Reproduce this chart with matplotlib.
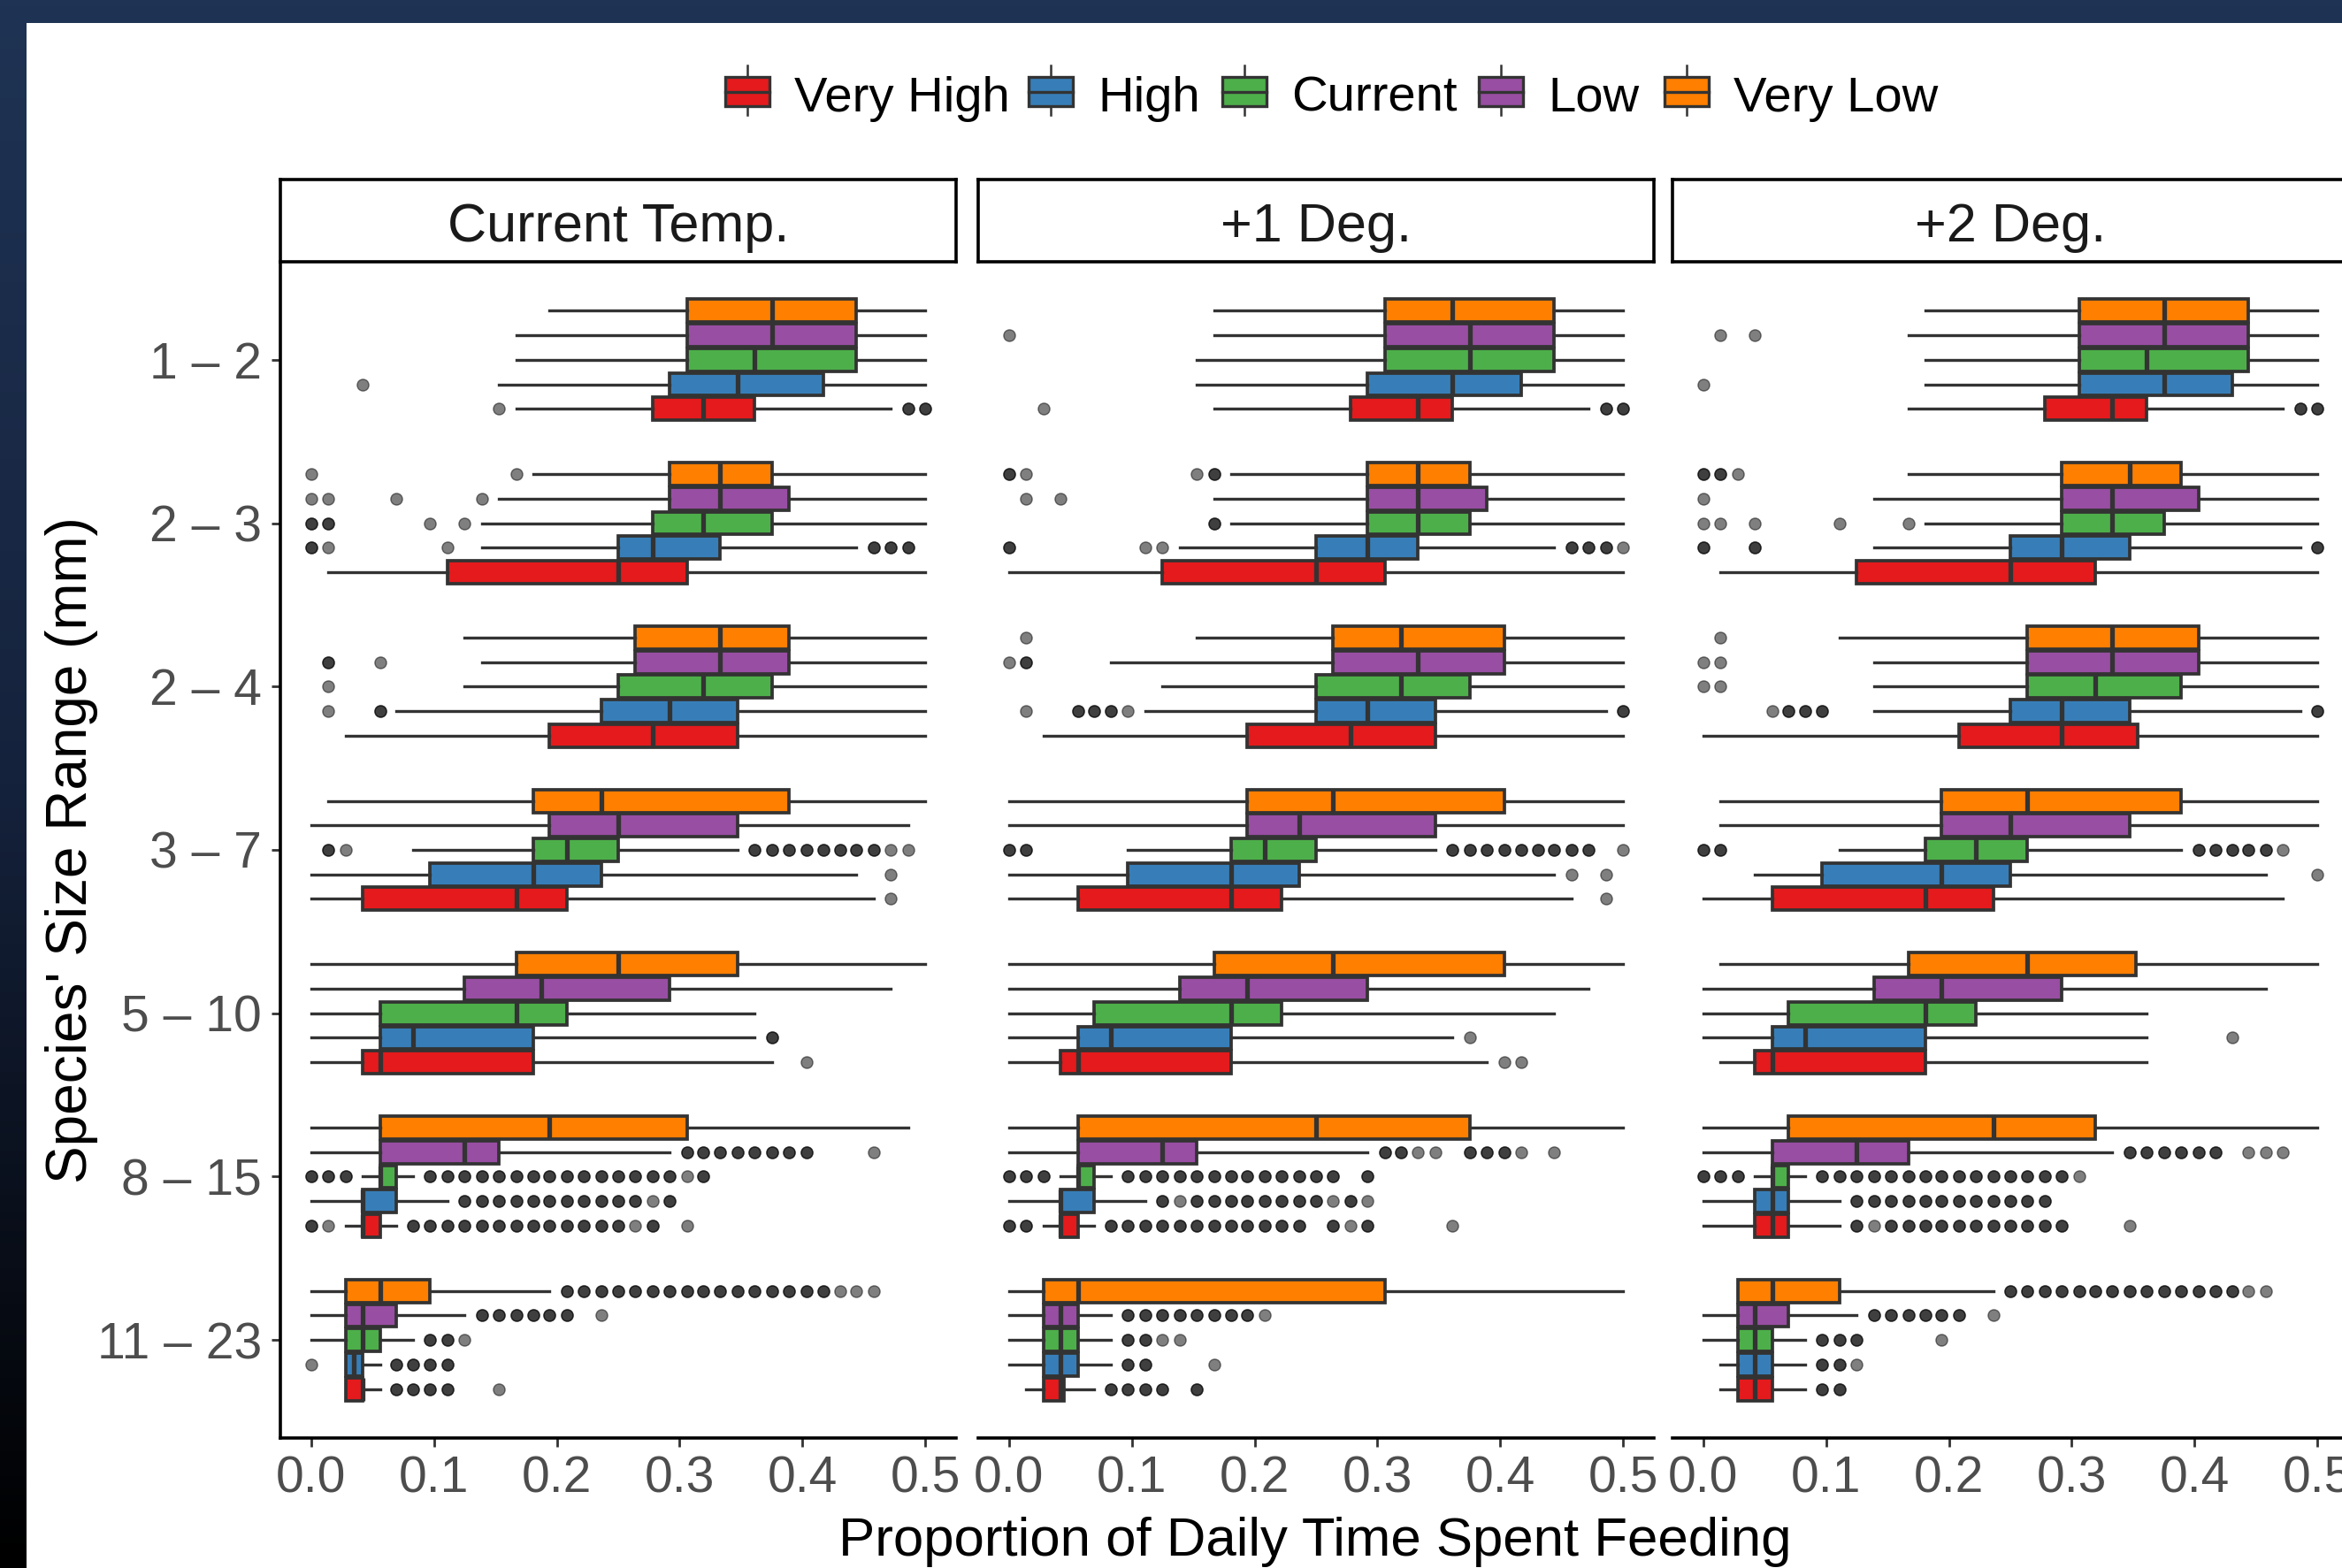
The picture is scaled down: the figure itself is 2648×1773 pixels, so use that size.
import numpy as np
import matplotlib.pyplot as plt
from matplotlib.patches import Rectangle
from matplotlib.lines import Line2D
from matplotlib.colors import LinearSegmentedColormap

plt.rcParams['font.family'] = ['Liberation Sans', 'DejaVu Sans']

W, H = 2648, 1773

sizes = ["1 – 2", "2 – 3", "2 – 4", "3 – 7", "5 – 10", "8 – 15", "11 – 23"]
scenarios = ["Very High", "High", "Current", "Low", "Very Low"]
colours = ["#E41A1C", "#377EB8", "#4DAF4A", "#984EA3", "#FF7F00"]
panels = ["Current Temp.", "+1 Deg.", "+2 Deg."]
xticks = [0.0, 0.1, 0.2, 0.3, 0.4, 0.5]

# rows = size ranges (top to bottom), columns = Very High, High, Current, Low, Very Low
# ---- Current Temp. ----
cur_lo = [[.167, .153, .167, .167, .194],
          [.014, .139, .139, .153, .181],
          [.028, .069, .125, .139, .125],
          [0, 0, .083, 0, .014],
          [0, 0, 0, 0, 0],
          [.028, 0, .042, 0, 0],
          [.028, .028, 0, 0, 0]]
cur_q1 = [[.278, .292, .306, .306, .306],
          [.111, .25, .278, .292, .292],
          [.194, .236, .25, .264, .264],
          [.042, .097, .181, .194, .181],
          [.042, .056, .056, .125, .167],
          [.042, .042, .056, .056, .056],
          [.028, .028, .028, .028, .028]]
cur_med = [[.319, .347, .361, .375, .375],
           [.25, .278, .319, .333, .333],
           [.278, .292, .319, .333, .333],
           [.167, .181, .208, .25, .236],
           [.056, .083, .167, .1875, .25],
           [.042, .042, .056, .125, .194],
           [.042, .035, .042, .042, .056]]
cur_q3 = [[.361, .417, .444, .444, .444],
          [.306, .333, .375, .389, .375],
          [.347, .347, .375, .389, .389],
          [.208, .236, .25, .347, .389],
          [.181, .181, .208, .292, .347],
          [.056, .069, .069, .153, .306],
          [.042, .042, .056, .069, .097]]
cur_hi = [[.472, .5, .5, .5, .5],
          [.5, .444, .5, .5, .5],
          [.5, .5, .5, .5, .5],
          [.458, .444, .347, .486, .5],
          [.375, .361, .361, .472, .5],
          [.069, .111, .083, .292, .486],
          [.056, .056, .083, .125, .194]]
cur_out = [
    [[.153, .486, .486, .5, .5], [.042], [], [], []],
    [[], [0, 0, .014, .111, .458, .458, .472, .472, .486, .486],
     [0, 0, .014, .014, .097, .125], [0, .014, .069, .139], [0, .167]],
    [[], [.014, .056, .056], [.014], [.014, .014, .056], []],
    [[.472], [.472],
     [.014, .014, .028, .361, .361, .375, .375, .389, .389, .403, .403, .417, .417,
      .431, .431, .444, .444, .458, .458, .472, .486], [], []],
    [[.403], [.375, .375], [], [], []],
    [[0, 0, .014, .083, .083, .097, .097, .111, .111, .125, .125, .139, .139, .153, .153,
      .167, .167, .181, .181, .194, .194, .208, .208, .222, .222, .236, .236, .25, .25,
      .264, .278, .278, .306],
     [.125, .125, .139, .139, .153, .153, .167, .167, .181, .181, .194, .194, .208, .208,
      .222, .222, .236, .236, .25, .25, .264, .264, .278, .292, .292],
     [0, 0, .014, .014, .028, .028, .097, .097, .111, .111, .125, .125, .139, .139, .153,
      .153, .167, .167, .181, .181, .194, .194, .208, .208, .222, .222, .236, .236, .25,
      .25, .264, .264, .278, .278, .292, .292, .306, .319, .319],
     [.306, .306, .319, .319, .333, .333, .347, .347, .361, .361, .375, .375, .389, .389,
      .403, .403, .458],
     []],
    [[.069, .069, .083, .083, .097, .097, .111, .111, .153],
     [0, .069, .069, .083, .083, .097, .097, .111, .111],
     [.097, .097, .111, .111, .125],
     [.139, .139, .153, .153, .167, .167, .181, .181, .194, .194, .208, .208, .236],
     [.208, .208, .222, .222, .236, .236, .25, .25, .264, .264, .278, .278, .292, .292,
      .306, .306, .319, .319, .333, .333, .347, .347, .361, .361, .375, .375, .389, .389,
      .403, .403, .417, .417, .431, .444, .458]],
]

# ---- +1 Deg. ----
one_lo = [[.167, .153, .153, .167, .167],
          [0, .139, .181, .167, .181],
          [.028, .111, .125, .083, .153],
          [0, 0, .097, 0, 0],
          [0, 0, 0, 0, 0],
          [.028, 0, .042, 0, 0],
          [.014, 0, 0, 0, 0]]
one_q1 = [[.278, .292, .306, .306, .306],
          [.125, .25, .292, .292, .292],
          [.194, .25, .25, .264, .264],
          [.056, .097, .181, .194, .194],
          [.042, .056, .069, .139, .167],
          [.042, .042, .056, .056, .056],
          [.028, .028, .028, .028, .028]]
one_med = [[.333, .361, .375, .375, .361],
           [.25, .292, .333, .333, .333],
           [.278, .292, .319, .333, .319],
           [.181, .181, .208, .236, .264],
           [.056, .083, .181, .194, .264],
           [.042, .042, .056, .125, .25],
           [.042, .042, .042, .042, .056]]
one_q3 = [[.361, .417, .444, .444, .444],
          [.306, .333, .375, .389, .375],
          [.347, .347, .375, .403, .403],
          [.222, .236, .25, .347, .403],
          [.181, .181, .222, .292, .403],
          [.056, .069, .069, .153, .375],
          [.045, .056, .056, .056, .306]]
one_hi = [[.472, .5, .5, .5, .5],
          [.5, .444, .5, .5, .5],
          [.5, .486, .5, .5, .5],
          [.458, .444, .347, .5, .5],
          [.389, .361, .444, .472, .5],
          [.069, .111, .083, .292, .5],
          [.069, .083, .083, .083, .5]]
one_out = [
    [[.028, .486, .486, .5, .5], [], [], [0], []],
    [[], [0, 0, .111, .125, .458, .458, .472, .472, .486, .486, .5], [.167, .167],
     [.014, .042], [0, 0, .014, .153, .167, .167]],
    [[], [.014, .056, .056, .069, .069, .083, .083, .097, .5, .5], [], [0, .014, .014], [.014]],
    [[.486], [.458, .486],
     [0, 0, .014, .014, .361, .361, .375, .375, .389, .389, .403, .403, .417, .417, .431,
      .431, .444, .444, .458, .458, .472, .472, .5], [], []],
    [[.403, .417], [.375], [], [], []],
    [[0, 0, .014, .014, .083, .083, .097, .097, .111, .111, .125, .125, .139, .139, .153,
      .153, .167, .167, .181, .181, .194, .194, .208, .208, .222, .222, .236, .236, .264,
      .264, .278, .292, .292, .361],
     [.125, .125, .139, .153, .153, .167, .167, .181, .181, .194, .194, .208, .208, .222,
      .222, .236, .236, .25, .25, .264, .278, .278, .292],
     [0, 0, .014, .014, .028, .028, .097, .097, .111, .111, .125, .125, .139, .139, .153,
      .153, .167, .167, .181, .181, .194, .194, .208, .208, .222, .222, .236, .236, .25,
      .25, .264, .264, .292, .292],
     [.306, .306, .319, .319, .333, .347, .375, .375, .389, .389, .403, .403, .417, .444],
     []],
    [[.083, .083, .097, .097, .111, .111, .125, .125, .153, .153],
     [.097, .097, .111, .111, .167],
     [.097, .097, .111, .111, .125, .139],
     [.097, .097, .111, .111, .125, .125, .139, .139, .153, .153, .167, .167, .181, .181,
      .194, .194, .208],
     []],
]

# ---- +2 Deg. ----
two_lo = [[.167, .181, .181, .167, .181],
          [.014, .139, .181, .139, .167],
          [0, .139, .139, .139, .111],
          [0, .042, .111, .014, .014],
          [.014, 0, 0, 0, .014],
          [0, 0, .042, 0, 0],
          [.014, .014, 0, 0, .028]]
two_q1 = [[.278, .306, .306, .306, .306],
          [.125, .25, .292, .292, .292],
          [.208, .25, .264, .264, .264],
          [.056, .097, .181, .194, .194],
          [.042, .056, .069, .139, .167],
          [.042, .042, .056, .056, .069],
          [.028, .028, .028, .028, .028]]
two_med = [[.333, .375, .361, .375, .375],
           [.25, .292, .333, .333, .347],
           [.292, .292, .319, .333, .333],
           [.181, .194, .222, .25, .264],
           [.056, .083, .181, .194, .264],
           [.056, .056, .056, .125, .236],
           [.042, .042, .042, .042, .056]]
two_q3 = [[.361, .431, .444, .444, .444],
          [.319, .347, .375, .403, .389],
          [.354, .347, .389, .403, .403],
          [.236, .25, .264, .347, .389],
          [.181, .181, .222, .292, .352],
          [.069, .069, .069, .167, .319],
          [.056, .056, .056, .069, .111]]
two_hi = [[.472, .5, .5, .5, .5],
          [.5, .486, .5, .5, .5],
          [.5, .486, .5, .5, .5],
          [.472, .458, .389, .5, .5],
          [.361, .361, .361, .458, .5],
          [.111, .111, .083, .333, .5],
          [.083, .083, .083, .125, .236]]
two_out = [
    [[.486, .486, .5, .5], [0], [], [.014, .042], []],
    [[], [0, 0, .042, .042, .5, .5], [0, .014, .042, .111, .167], [0], [0, 0, .014, .014, .028]],
    [[], [.056, .069, .069, .083, .083, .097, .097, .5, .5], [0, .014], [0, .014], [.014]],
    [[], [.5],
     [0, 0, .014, .014, .403, .403, .417, .417, .431, .431, .444, .444, .458, .458, .472],
     [], []],
    [[], [.431], [], [], []],
    [[.125, .125, .139, .153, .153, .167, .167, .181, .181, .194, .194, .208, .208, .222,
      .222, .236, .236, .25, .25, .264, .264, .278, .278, .292, .292, .347],
     [.125, .125, .139, .139, .153, .153, .167, .167, .181, .181, .194, .194, .208, .208,
      .222, .222, .236, .236, .25, .25, .264, .264, .278, .278],
     [0, 0, .014, .014, .028, .028, .097, .097, .111, .111, .125, .125, .139, .139, .153,
      .153, .167, .167, .181, .181, .194, .194, .208, .208, .222, .222, .236, .236, .25,
      .25, .264, .264, .278, .278, .292, .292, .306],
     [.347, .347, .361, .361, .375, .375, .389, .389, .403, .403, .417, .417, .444, .458, .472],
     []],
    [[.097, .097, .111, .111],
     [.097, .097, .111, .111, .125],
     [.097, .097, .111, .111, .125, .125, .194],
     [.139, .139, .153, .153, .167, .167, .181, .181, .194, .194, .208, .208, .236],
     [.25, .25, .264, .264, .278, .278, .292, .292, .306, .306, .319, .319, .333, .333,
      .347, .347, .361, .361, .375, .375, .389, .389, .403, .403, .417, .417, .431, .431,
      .444, .458]],
]

panel_data = [
    (cur_lo, cur_q1, cur_med, cur_q3, cur_hi, cur_out),
    (one_lo, one_q1, one_med, one_q3, one_hi, one_out),
    (two_lo, two_q1, two_med, two_q3, two_hi, two_out),
]


def fig_box(x0, y0, x1, y1):
    # pixel box (top-left origin) -> figure fraction rect
    return [x0 / W, 1 - y1 / H, (x1 - x0) / W, (y1 - y0) / H]


fig = plt.figure(figsize=(W / 100, H / 100), dpi=100)

# screenshot frame: dark navy band on top and left
bg = fig.add_axes([0, 0, 1, 1], zorder=-10)
frame = LinearSegmentedColormap.from_list('frame', ['#1f3354', '#15223c', '#000000'])
bg.imshow(np.linspace(0, 1, 256).reshape(-1, 1), aspect='auto', cmap=frame,
          extent=[0, 1, 0, 1], origin='upper')
bg.axis('off')
fig.add_artist(Rectangle((30 / W, 0), 1, 1 - 26 / H, transform=fig.transFigure,
                         facecolor='white', edgecolor='none', zorder=-5))

edge = '#333333'
lefts = [317, 1106, 1891]
pw = 764
n = len(sizes)

for p, (title, data, left) in enumerate(zip(panels, panel_data, lefts)):
    lo, q1, med, q3, hi, out = data
    ax = fig.add_axes(fig_box(left, 296, left + pw, 1626))
    ax.set_facecolor('none')
    for s, col in enumerate(colours):
        stats, pos = [], []
        for i in range(n):
            stats.append(dict(whislo=lo[i][s], q1=q1[i][s], med=med[i][s],
                              q3=q3[i][s], whishi=hi[i][s], fliers=out[i][s]))
            pos.append(n - i + (s - 2) * 0.15)
        ax.bxp(stats, positions=pos, widths=0.14, orientation='horizontal',
               patch_artist=True, showcaps=False, manage_ticks=False,
               boxprops=dict(facecolor=col, edgecolor=edge, linewidth=2.7),
               whiskerprops=dict(color=edge, linewidth=2.4),
               medianprops=dict(color=edge, linewidth=3.8),
               flierprops=dict(marker='o', markersize=9.5, markerfacecolor='black',
                               markeredgecolor='black', markeredgewidth=1.0,
                               alpha=0.5, linestyle='none'))
    ax.set_xlim(-0.025, 0.525)
    ax.set_ylim(0.4, n + 0.6)
    ax.set_xticks(xticks)
    ax.set_xticklabels([f"{t:.1f}" for t in xticks])
    ax.spines[['top', 'right']].set_visible(False)
    ax.spines['bottom'].set_linewidth(2.6)
    ax.tick_params(axis='x', length=7, width=2.0, color=edge, labelsize=41,
                   labelcolor='#4D4D4D', pad=7)
    if p == 0:
        ax.spines['left'].set_linewidth(2.6)
        ax.set_yticks(range(n, 0, -1))
        ax.set_yticklabels(sizes)
        ax.tick_params(axis='y', length=7, width=2.0, color=edge, labelsize=41,
                       labelcolor='#4D4D4D', pad=8)
    else:
        ax.spines['left'].set_visible(False)
        ax.tick_params(axis='y', left=False, labelleft=False)

    st = fig.add_axes(fig_box(left, 203, left + pw, 296))
    st.set_xticks([])
    st.set_yticks([])
    for sp in st.spines.values():
        sp.set_linewidth(2.6)
        sp.set_color('black')
    st.text(0.5, 0.247, title, ha='center', va='baseline', fontsize=44,
            color='#1A1A1A', transform=st.transAxes)

# legend along the top
key_x = [845, 1188, 1407, 1697, 1907]
for name, col, cx in zip(scenarios, colours, key_x):
    fig.add_artist(Rectangle(((cx - 25) / W, 1 - 120 / H), 50 / W, 33 / H,
                             transform=fig.transFigure, facecolor=col,
                             edgecolor=edge, linewidth=2.4))
    fig.add_artist(Line2D([(cx - 25) / W, (cx + 25) / W], [1 - 103.5 / H] * 2,
                          transform=fig.transFigure, color=edge, linewidth=2.4))
    for y0, y1 in [(74, 87), (120, 130)]:
        fig.add_artist(Line2D([cx / W] * 2, [1 - y0 / H, 1 - y1 / H],
                              transform=fig.transFigure, color=edge, linewidth=1.8))
    fig.text((cx + 53) / W, 1 - 126 / H, name, ha='left', va='baseline',
             fontsize=40.5, color='black')

fig.text(1487 / W, 1 - 1759 / H, "Proportion of Daily Time Spent Feeding",
         ha='center', va='baseline', fontsize=44.5, color='black')
fig.text(81 / W, 1 - 961 / H, "Species' Size Range (mm)", rotation=90,
         ha='center', va='center', fontsize=46, color='black')

fig.savefig('out.png', dpi=100)
